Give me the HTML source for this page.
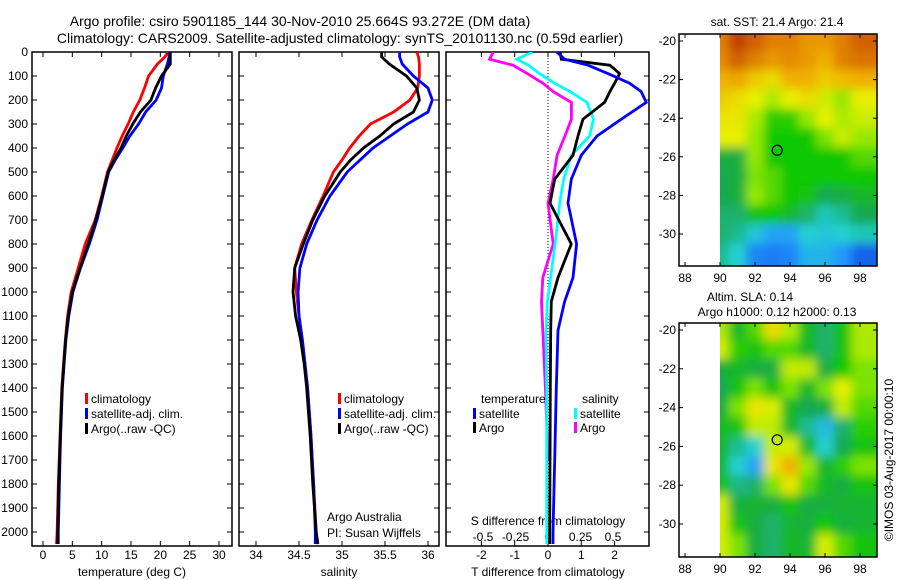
<!DOCTYPE html>
<html><head><meta charset="utf-8"><style>
body{margin:0;background:#fff}
svg{display:block;font-family:"Liberation Sans",sans-serif}
text{fill:#000}
</style></head><body>
<svg id="chart" width="900" height="580" viewBox="0 0 900 580">
<defs>
<clipPath id="cp1"><rect x="32" y="52" width="200" height="494"/></clipPath>
<clipPath id="cp2"><rect x="239" y="52" width="200" height="494"/></clipPath>
<clipPath id="cp3"><rect x="446" y="52" width="203" height="494"/></clipPath>
<clipPath id="cm1"><rect x="720" y="34" width="157" height="232"/></clipPath>
<clipPath id="cm2"><rect x="720" y="323" width="157" height="234"/></clipPath>
<filter id="bl" x="-5%" y="-5%" width="110%" height="110%"><feGaussianBlur stdDeviation="5"/></filter>
</defs>
<text x="300" y="26" font-size="14" text-anchor="middle">Argo profile: csiro 5901185_144 30-Nov-2010 25.664S 93.272E (DM data)</text>
<text x="340" y="43" font-size="14" text-anchor="middle">Climatology: CARS2009. Satellite-adjusted climatology: synTS_20101130.nc (0.59d earlier)</text>
<g id="g1"></g>
<g id="g2"></g>
<g id="g3"></g>
<g id="m1"></g>
<g id="m2"></g>
<text x="777" y="26" font-size="12" text-anchor="middle">sat. SST: 21.4  Argo: 21.4</text>
<text x="750" y="301" font-size="12" text-anchor="middle">Altim. SLA: 0.14</text>
<text x="777" y="316" font-size="12" text-anchor="middle">Argo h1000: 0.12 h2000: 0.13</text>
<text transform="translate(893,460) rotate(-90)" font-size="12" text-anchor="middle">©IMOS 03-Aug-2017 00:00:10</text>
<text x="327" y="521" font-size="12">Argo Australia</text>
<text x="327" y="537" font-size="12">PI: Susan Wijffels</text>
</svg>
<script>
const depths=[0,20,50,100,150,200,250,300,350,400,450,500,600,700,800,900,1000,1100,1200,1300,1400,1600,1800,2000,2050];
const tClim=[21.3,20.8,19.5,18,17.3,16.5,15.4,14.5,13.5,12.6,11.8,11,10,8.9,7.2,6,4.8,4.2,3.8,3.5,3.2,2.9,2.6,2.4,2.3];
const tSat=[21.5,21.5,21.2,20.5,20.2,19.3,17.5,16.3,14.8,13.6,12.3,11.2,10.2,9.2,7.9,6.4,5.1,4.4,3.9,3.6,3.3,3.0,2.8,2.6,2.6];
const tArgo=[21.7,21.7,21.7,20.2,19.2,18.4,16.6,15.3,14.2,13.3,12.1,11.1,10.1,9.0,7.7,6.3,5,4.3,3.85,3.55,3.25,2.95,2.7,2.5,2.5];
const sClim=[35.87,35.89,35.9,35.9,35.88,35.79,35.6,35.33,35.2,35.09,35.0,34.9,34.78,34.65,34.53,34.45,34.47,34.5,34.54,34.57,34.6,34.64,34.67,34.7,34.71];
const sSat=[35.67,35.67,35.7,35.83,36.0,36.05,36.0,35.76,35.56,35.36,35.21,35.06,34.86,34.71,34.59,34.51,34.49,34.5,34.54,34.57,34.6,34.64,34.67,34.69,34.69];
const sArgo=[35.46,35.46,35.55,35.75,35.87,35.9,35.83,35.6,35.44,35.25,35.1,34.98,34.8,34.66,34.55,34.45,34.43,34.46,34.52,34.56,34.59,34.63,34.66,34.7,34.72];
const diffDepths=[0,30,55,90,130,165,210,280,350,430,530,630,800,940,1040,1160,1400,1700,2000,2050];
const dTSat=[0.26,0.5,1.2,1.8,2.45,2.8,2.95,2.2,1.47,1.0,0.7,0.6,0.86,0.75,0.5,0.3,0.25,0.2,0.15,0.15];
const dTArgo=[0.36,0.4,1.86,2.15,2.0,1.86,1.7,1.05,0.9,0.75,0.2,0.06,0.7,0.3,0.1,0.08,0.07,0.06,0.05,0.05];
const dSSat=[-0.12,-0.24,-0.15,-0.065,0.05,0.17,0.3,0.35,0.32,0.18,0.12,0.09,0.055,0.02,-0.005,-0.015,-0.01,-0.01,-0.01,-0.01];
const dSArgo=[-0.42,-0.45,-0.27,-0.16,-0.04,0.04,0.18,0.18,0.13,0.07,0.04,0.0,0.04,-0.04,-0.05,-0.04,-0.02,0.0,null,null];
const depthTicks=[0,100,200,300,400,500,600,700,800,900,1000,1100,1200,1300,1400,1500,1600,1700,1800,1900,2000];
const tTicks=[0,5,10,15,20,25,30];
const sTicks=[34,34.5,35,35.5,36];
const dTTicks=[-2,-1,0,1,2];
const dSTicks=[-0.5,-0.25,0,0.25,0.5];
const mapLons=[88,90,92,94,96,98];
const mapLats=[-20,-22,-24,-26,-28,-30];
const cellLons=[90,91,92,93,94,95,96,97,98];
const cellLats=[-20,-21,-22,-23,-24,-25,-26,-27,-28,-29,-30,-31];
const sstGrid=[
[.9,1,.95,.9,.9,.85,.85,.9,.95],
[.88,.95,.9,.85,.88,.85,.8,.9,.92],
[.8,.82,.75,.72,.8,.8,.75,.78,.8],
[.75,.72,.68,.62,.68,.72,.65,.6,.68],
[.7,.7,.62,.52,.52,.6,.68,.62,.65],
[.68,.68,.6,.5,.5,.5,.58,.65,.6],
[.42,.42,.6,.5,.5,.5,.5,.5,.55],
[.4,.42,.58,.55,.5,.5,.5,.5,.5],
[.4,.42,.6,.55,.5,.48,.4,.42,.45],
[.38,.38,.48,.5,.45,.38,.32,.35,.4],
[.38,.35,.28,.22,.22,.3,.28,.3,.32],
[.35,.3,.15,.12,.15,.25,.25,.2,.05]];
const slaGrid=[
[.62,.45,.55,.72,.62,.45,.38,.48,.62],
[.66,.52,.48,.55,.55,.45,.38,.48,.62],
[.42,.45,.42,.42,.64,.64,.42,.5,.58],
[.4,.48,.58,.48,.58,.45,.58,.68,.58],
[.42,.58,.7,.66,.45,.4,.42,.64,.55],
[.45,.48,.64,.64,.45,.35,.26,.38,.52],
[.45,.35,.3,.64,.66,.45,.3,.4,.48],
[.45,.3,.22,.7,.8,.6,.44,.52,.58],
[.48,.36,.38,.58,.7,.55,.45,.42,.48],
[.66,.42,.44,.42,.48,.42,.42,.44,.44],
[.66,.48,.42,.38,.44,.42,.5,.42,.44],
[.66,.58,.42,.38,.45,.44,.66,.55,.48]];
const floatLon=93.27, floatLat=-25.66;

const NS='http://www.w3.org/2000/svg';
function mk(parent,tag,attrs){const e=document.createElementNS(NS,tag);for(const k in attrs)e.setAttribute(k,attrs[k]);parent.appendChild(e);return e;}
const yD=d=>52+d*0.24;
const xT=t=>43+t*176/30;
const xS=s=>299+(s-34.5)*86;
const xDT=v=>548+v*33.3;
const xDS=v=>548+v*130;

function frame(g,x0,x1,name){
  const r=mk(g,'rect',{x:x0,y:52,width:x1-x0,height:494,fill:'none',stroke:'#000','stroke-width':1.5});
  
  
  depthTicks.forEach(d=>{
    mk(g,'line',{x1:x0,x2:x0+5,y1:yD(d),y2:yD(d),stroke:'#000'});
    mk(g,'line',{x1:x1,x2:x1-5,y1:yD(d),y2:yD(d),stroke:'#000'});
  });
}
function xticks(g,ticks,fx,fmt,y){
  ticks.forEach(t=>{
    const x=fx(t);
    mk(g,'line',{x1:x,x2:x,y1:546,y2:541,stroke:'#000'});
    mk(g,'line',{x1:x,x2:x,y1:52,y2:57,stroke:'#000'});
    const tx=mk(g,'text',{x:x,y:y,'font-size':12,'text-anchor':'middle'});
    tx.textContent=fmt(t);
    
    
  });
}
function line(g,vals,ds,fx,color,clip,name){
  let d='',pen=false;
  vals.forEach((v,i)=>{ if(v===null){pen=false;return;} d+=(pen?'L':'M')+fx(v).toFixed(1)+','+yD(ds[i]).toFixed(1); pen=true;});
  const p=mk(g,'path',{d:d,fill:'none',stroke:color,'stroke-width':2.8,'clip-path':'url(#'+clip+')'});
  
  
}
function legend(g,x,y,color,label){
  mk(g,'rect',{x:x,y:y-10,width:3,height:11,fill:color});
  const t=mk(g,'text',{x:x+6,y:y,'font-size':12});t.textContent=label;
  
  
}
const g1=document.getElementById('g1'),g2=document.getElementById('g2'),g3=document.getElementById('g3');
frame(g1,32,232,'temperature');frame(g2,239,439,'salinity');frame(g3,446,649,'difference');
depthTicks.forEach(d=>{const t=mk(g1,'text',{x:28,y:yD(d)+4,'font-size':12,'text-anchor':'end'});t.textContent=d;
  
  });
xticks(g1,tTicks,xT,String,559);
xticks(g2,sTicks,xS,String,559);
xticks(g3,dTTicks,xDT,String,559);
dSTicks.forEach(t=>{const x=xDS(t);const tx=mk(g3,'text',{x:x,y:541,'font-size':12,'text-anchor':'middle'});tx.textContent=String(t);
  
  });
[[g1,132,'temperature (deg C)','x-axis-title-temperature'],[g2,339,'salinity','x-axis-title-salinity'],[g3,548,'T difference from climatology','x-axis-title-t-diff']].forEach(a=>{
  const t=mk(a[0],'text',{x:a[1],y:576,'font-size':12,'text-anchor':'middle'});t.textContent=a[2];
  
  });
const st=mk(g3,'text',{x:548,y:525,'font-size':12,'text-anchor':'middle'});st.textContent='S difference from climatology';


mk(g3,'line',{x1:xDT(0),x2:xDT(0),y1:52,y2:546,stroke:'#000','stroke-dasharray':'1,2'});

line(g1,tClim,depths,xT,'#ff0000','cp1','temp-climatology-line');
line(g1,tSat,depths,xT,'#0000ff','cp1','temp-satellite-line');
line(g1,tArgo,depths,xT,'#000000','cp1','temp-argo-line');
line(g2,sClim,depths,xS,'#ff0000','cp2','sal-climatology-line');
line(g2,sSat,depths,xS,'#0000ff','cp2','sal-satellite-line');
line(g2,sArgo,depths,xS,'#000000','cp2','sal-argo-line');
line(g3,dSArgo,diffDepths,xDS,'#ff00ff','cp3','s-diff-argo-line');
line(g3,dSSat,diffDepths,xDS,'#00ffff','cp3','s-diff-satellite-line');
line(g3,dTArgo,diffDepths,xDT,'#000000','cp3','t-diff-argo-line');
line(g3,dTSat,diffDepths,xDT,'#0000ff','cp3','t-diff-satellite-line');

legend(g1,85,403,'#ff0000','climatology');legend(g1,85,418,'#0000ff','satellite-adj. clim.');legend(g1,85,433,'#000000','Argo(..raw -QC)');
legend(g2,338,403,'#ff0000','climatology');legend(g2,338,418,'#0000ff','satellite-adj. clim.');legend(g2,338,433,'#000000','Argo(..raw -QC)');
const lt=mk(g3,'text',{x:481,y:403,'font-size':12});lt.textContent='temperature';


const ls=mk(g3,'text',{x:582,y:403,'font-size':12});ls.textContent='salinity';


legend(g3,473,418,'#0000ff','satellite');legend(g3,473,432,'#000000','Argo');
legend(g3,574,418,'#00ffff','satellite');legend(g3,574,432,'#ff00ff','Argo');

const stops=[[0,[16,80,224]],[.2,[32,150,255]],[.3,[32,208,208]],[.4,[24,168,80]],[.5,[16,200,0]],[.6,[150,232,0]],[.68,[232,240,0]],[.8,[240,176,0]],[.9,[224,128,0]],[1,[192,64,0]]];
function cmap(v){for(let i=1;i<stops.length;i++){if(v<=stops[i][0]){const a=stops[i-1],b=stops[i],f=(v-a[0])/(b[0]-a[0]);return 'rgb('+a[1].map((c,k)=>Math.round(c+(b[1][k]-c)*f)).join(',')+')';}}return 'rgb(192,64,0)';}
function drawMap(id,top,bot,grid,clip,name){
  const g=document.getElementById(id);
  const xL=lon=>720+(lon-90)*17.5;
  const yL=lat=>top+7+(-20-lat)*(bot-top-7-(bot===266?32:33))/10;
  const inner=mk(g,'g',{'clip-path':'url(#'+clip+')'});
  const bg=mk(inner,'g',{filter:'url(#bl)'});
  grid.forEach((row,r)=>row.forEach((v,c)=>{
    const x0=xL(cellLons[c]-0.5), y0=yL(cellLats[r]+0.5);
    const cell=mk(bg,'rect',{x:x0-(c===0?20:0),y:y0-(r===0?20:0),width:17.6+(c===0||c===8?20:0),height:(yL(0)-yL(1))+0.6+(r===0||r===11?25:0),fill:cmap(v)});
    
    
  }));
  const fr=mk(g,'rect',{x:679,y:top,width:198,height:bot-top,fill:'none',stroke:'#000','stroke-width':1.5});
  
  
  mapLons.forEach(l=>{const x=xL(l);mk(g,'line',{x1:x,x2:x,y1:bot,y2:bot-4,stroke:'#000'});mk(g,'line',{x1:x,x2:x,y1:top,y2:top+4,stroke:'#000'});
    const t=mk(g,'text',{x:x,y:bot+16,'font-size':12,'text-anchor':'middle'});t.textContent=l;
    
    });
  mapLats.forEach(l=>{const y=yL(l);mk(g,'line',{x1:679,x2:683,y1:y,y2:y,stroke:'#000'});mk(g,'line',{x1:877,x2:873,y1:y,y2:y,stroke:'#000'});
    const t=mk(g,'text',{x:676,y:y+4,'font-size':12,'text-anchor':'end'});t.textContent=l;
    
    });
  const c=mk(g,'circle',{cx:xL(floatLon),cy:yL(floatLat),r:5,fill:'none',stroke:'#000','stroke-width':1.2});
  
  
}
drawMap('m1',34,266,sstGrid,'cm1','sst-map');
drawMap('m2',323,557,slaGrid,'cm2','sla-map');
</script>
</body></html>
